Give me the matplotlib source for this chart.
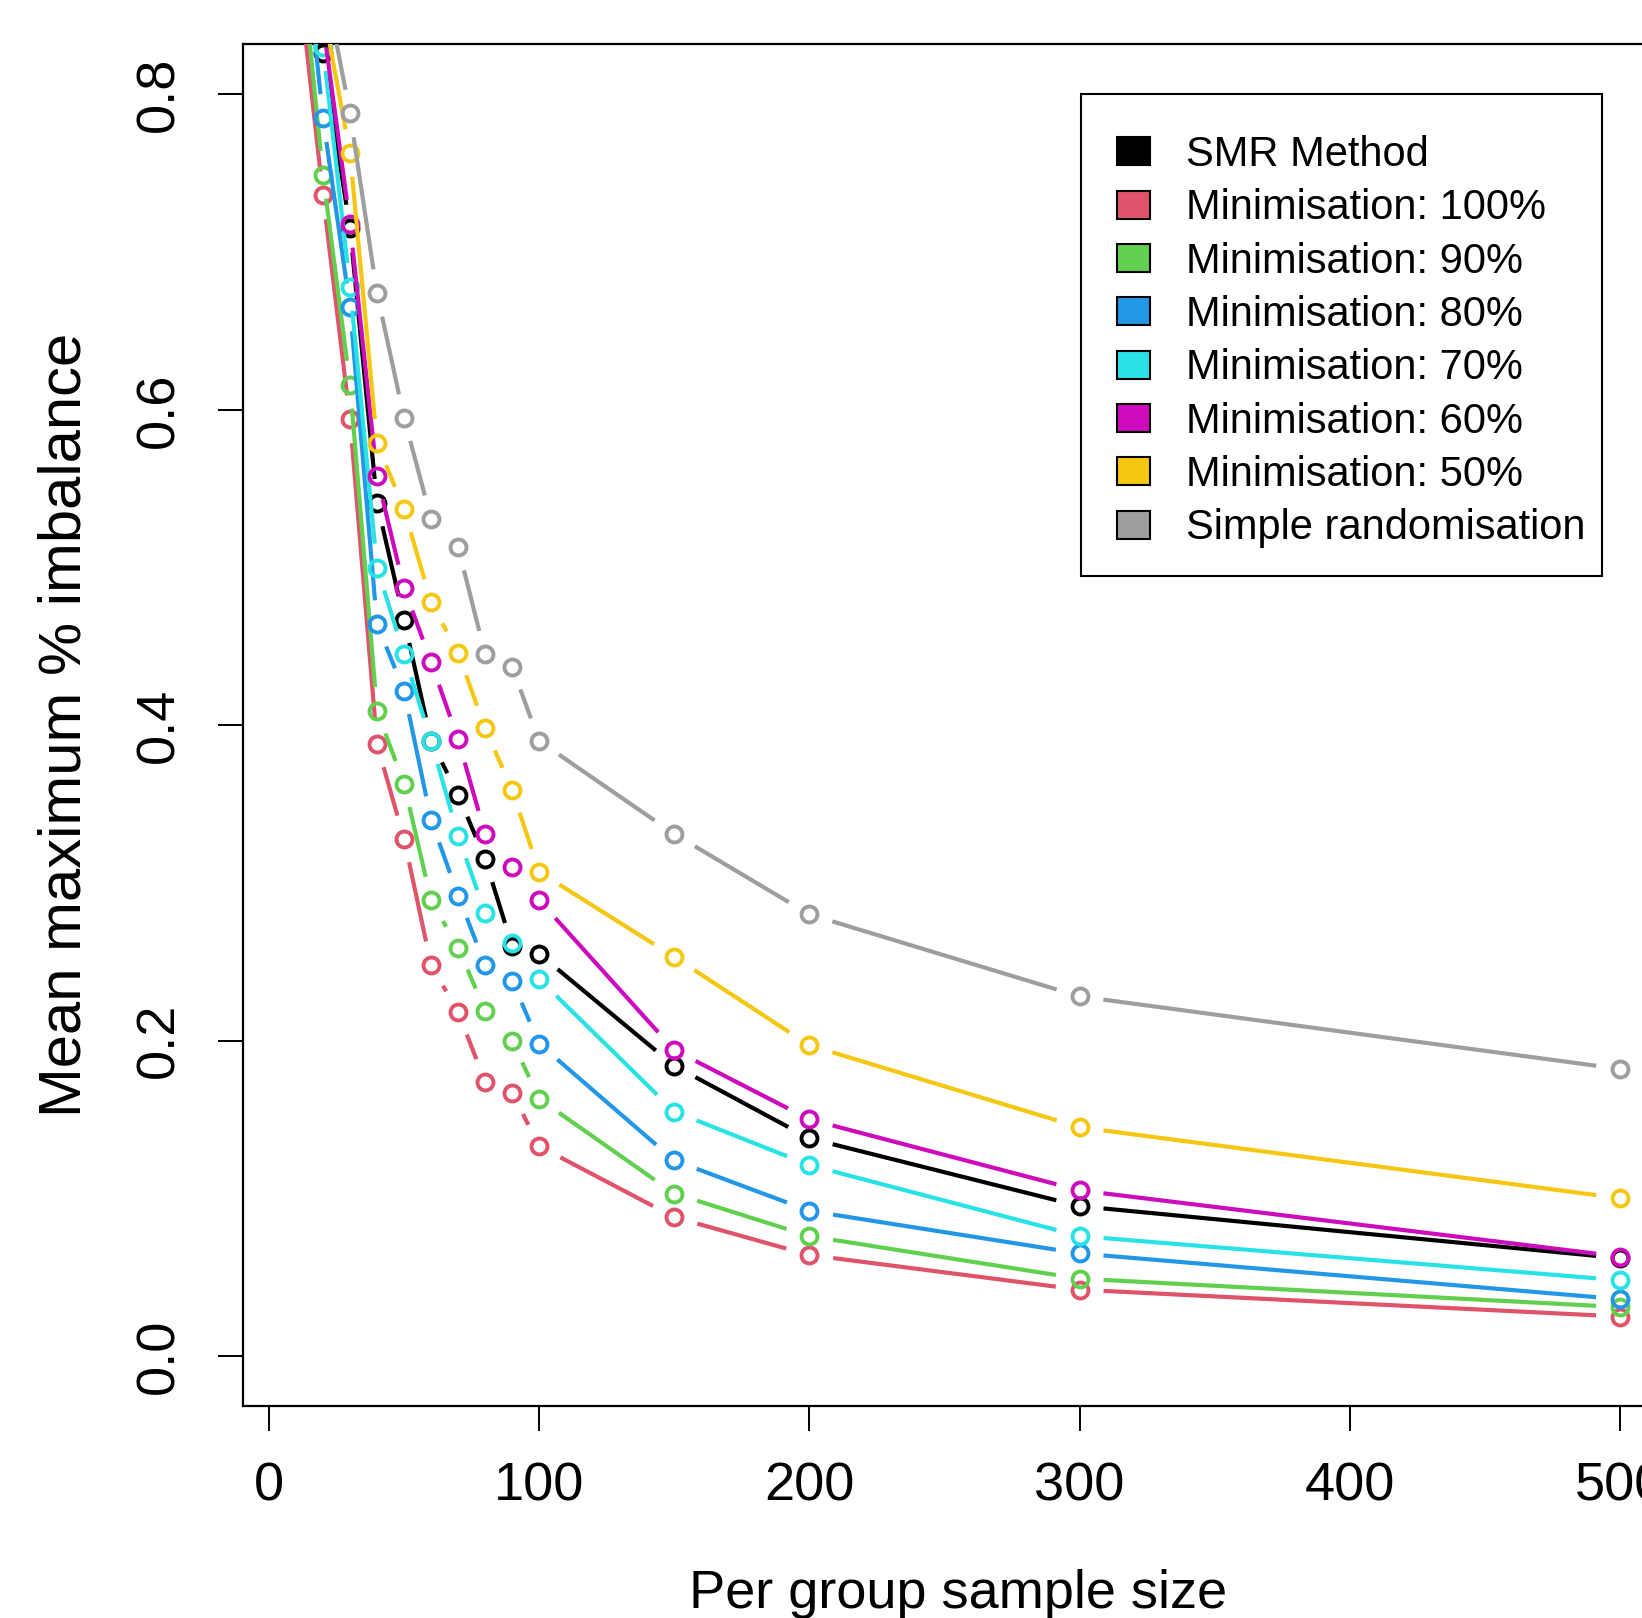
# Mean maximum % imbalance vs per group sample size
import numpy as np
import matplotlib.pyplot as plt
from matplotlib.collections import LineCollection
from matplotlib.patches import Patch, Rectangle

plt.rcParams['font.family'] = ['Liberation Sans', 'DejaVu Sans']

# sample sizes (per group)
n = [10, 20, 30, 40, 50, 60, 70, 80, 90, 100, 150, 200, 300, 500]

# values (first points are above the top of the plot)
smr    = [0.98, 0.826, 0.715, 0.541, 0.467, 0.390, 0.356, 0.315, 0.260, 0.255, 0.184, 0.138, 0.095, 0.062]
min100 = [0.89, 0.736, 0.594, 0.388, 0.328, 0.248, 0.218, 0.174, 0.167, 0.133, 0.088, 0.064, 0.042, 0.025]
min90  = [0.92, 0.749, 0.616, 0.409, 0.363, 0.289, 0.259, 0.219, 0.200, 0.163, 0.103, 0.076, 0.049, 0.031]
min80  = [0.95, 0.785, 0.665, 0.464, 0.422, 0.340, 0.292, 0.248, 0.238, 0.198, 0.124, 0.092, 0.065, 0.036]
min70  = [0.97, 0.830, 0.678, 0.500, 0.445, 0.390, 0.330, 0.281, 0.262, 0.239, 0.155, 0.121, 0.076, 0.048]
min60  = [1.00, 0.845, 0.718, 0.558, 0.487, 0.440, 0.391, 0.331, 0.310, 0.289, 0.194, 0.150, 0.105, 0.063]
min50  = [1.02, 0.855, 0.763, 0.579, 0.537, 0.478, 0.446, 0.398, 0.359, 0.307, 0.253, 0.197, 0.145, 0.100]
simple = [1.05, 0.877, 0.788, 0.674, 0.595, 0.531, 0.513, 0.445, 0.437, 0.390, 0.331, 0.280, 0.228, 0.182]

labels = ['SMR Method', 'Minimisation: 100%', 'Minimisation: 90%', 'Minimisation: 80%',
          'Minimisation: 70%', 'Minimisation: 60%', 'Minimisation: 50%', 'Simple randomisation']
series = [smr, min100, min90, min80, min70, min60, min50, simple]
cols = ['#000000', '#DF536B', '#61D04F', '#2297E6', '#28E2E5', '#CD0BBC', '#F5C710', '#9E9E9E']

W, H = 1642, 1618
fig = plt.figure(figsize=(W / 100, H / 100), dpi=100)
# plot region (right edge runs past the picture, as in the original)
left, right, top, bottom = 243, 1673, 44, 1406.4
ax = fig.add_axes([left / W, 1 - bottom / H, (right - left) / W, (bottom - top) / H])
ax.set_xlim(-9.6, 519.6)
ax.set_ylim(-0.032, 0.832)

gap = 24  # px, line stops short of each point (R type="b")
for k, (vals, c) in enumerate(zip(series, cols)):
    pts = ax.transData.transform(np.column_stack([n, vals]))
    segs = []
    for p0, p1 in zip(pts[:-1], pts[1:]):
        d = p1 - p0
        L = np.hypot(*d)
        if L <= 2 * gap:
            continue
        u = d / L
        seg = ax.transData.inverted().transform(np.array([p0 + u * gap, p1 - u * gap]))
        segs.append(seg)
    ax.add_collection(LineCollection(segs, colors=c, linewidths=3.0, zorder=2 + k,
                                     capstyle='butt'))
    ax.plot(n, vals, 'o', ms=11.5, mfc='none', mec=c, mew=2.8, zorder=2 + k, clip_on=True)

ax.set_xticks([0, 100, 200, 300, 400, 500])
ax.set_yticks([0.0, 0.2, 0.4, 0.6, 0.8])
ax.set_yticklabels(['0.0', '0.2', '0.4', '0.6', '0.8'], rotation=90, va='center')
ax.tick_params(direction='out', length=18, width=1.4, labelsize=39)
ax.tick_params(axis='x', pad=22)
ax.tick_params(axis='y', pad=24)
for s in ax.spines.values():
    s.set_linewidth(1.6)

ax.set_xlabel('Per group sample size', fontsize=39)
ax.xaxis.set_label_coords(0.5, -0.1377)
ax.xaxis.label.set_va('center')
ax.set_ylabel('Mean maximum % imbalance', fontsize=43)
ax.yaxis.set_label_coords(-0.1245, 0.5)
ax.yaxis.label.set_va('center')

# legend: entries without frame, box drawn separately (R-style padding)
handles = [Patch(facecolor=c, edgecolor='black', linewidth=1.5) for c in cols]
leg = ax.legend(handles, labels, loc='upper left',
                bbox_to_anchor=(1117 / W, 1 - 135 / H), bbox_transform=fig.transFigure,
                fontsize=30, frameon=False, borderpad=0, borderaxespad=0,
                handlelength=0.8, handleheight=0.65, handletextpad=0.85,
                labelspacing=0.32)
fig.add_artist(Rectangle((1080.7 / W, 1 - 576 / H), (1602.2 - 1080.7) / W, (576 - 94.2) / H,
                         transform=fig.transFigure, fill=False, edgecolor='black',
                         linewidth=1.5, zorder=20))

fig.savefig('out.png', dpi=100)
